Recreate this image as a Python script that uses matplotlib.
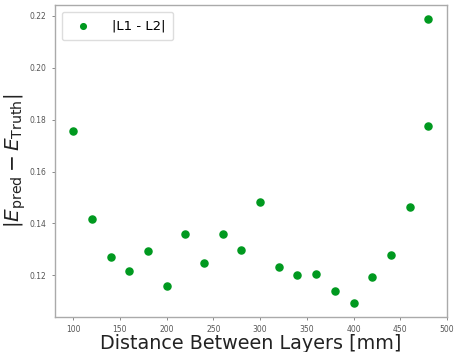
import numpy as np
import matplotlib.pyplot as plt

# layer separation scan
distance = [100, 120, 140, 160, 180, 200, 220, 240, 260, 280,
            300, 320, 340, 360, 380, 400, 420, 440, 460, 480, 480]
diff = [0.1755, 0.1417, 0.1269, 0.1217, 0.1294, 0.1159, 0.1360, 0.1246,
        0.1360, 0.1297, 0.1483, 0.1232, 0.1203, 0.1205, 0.1138, 0.1094,
        0.1195, 0.1278, 0.1463, 0.2187, 0.1777]

fig = plt.figure(figsize=(4.61, 3.52), dpi=100)
ax = fig.add_axes([55 / 461, 1 - 317 / 352, (447 - 55) / 461, (317 - 5) / 352])

ax.scatter(distance, diff, s=26, color="#00991f", label="|L1 - L2|", zorder=3)
ax.set_xlim(80.5, 500)

ax.set_xlabel("Distance Between Layers [mm]", fontsize=13.8, color="#222222", labelpad=0)
ax.set_ylabel(r"$|E_{\rm pred} - E_{\rm Truth}|$", fontsize=14.5, color="#222222", labelpad=1)

ax.tick_params(labelsize=5.5, labelcolor="#555555", color="#777777", length=2.5, width=0.6)
for sp in ax.spines.values():
    sp.set_color("#aaaaaa")
    sp.set_linewidth(1.0)

ax.legend(loc="upper left", fontsize=9.5, markerscale=0.8, handletextpad=1.2,
          borderpad=0.6, framealpha=1, edgecolor="#dddddd")

fig.savefig("out.png", dpi=100)
